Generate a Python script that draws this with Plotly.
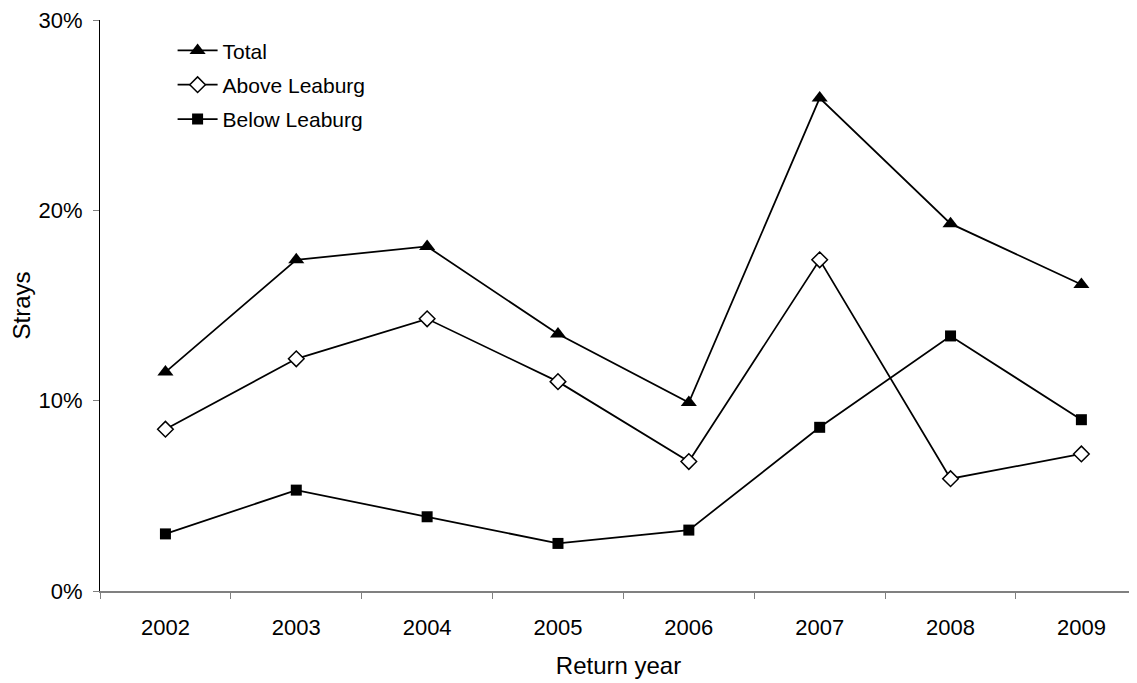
import plotly.graph_objects as go

years = ["2002", "2003", "2004", "2005", "2006", "2007", "2008", "2009"]
total = [11.5, 17.4, 18.1, 13.5, 9.9, 25.9, 19.3, 16.1]
above_leaburg = [8.5, 12.2, 14.3, 11.0, 6.8, 17.4, 5.9, 7.2]
below_leaburg = [3.0, 5.3, 3.9, 2.5, 3.2, 8.6, 13.4, 9.0]

FONT = "Liberation Sans, Arial, sans-serif"

fig = go.Figure()
fig.add_trace(go.Scatter(
    x=years, y=total, name="Total", mode="lines+markers", legendgroup="a",
    line={"color": "black", "width": 1.75},
    marker={"symbol": "triangle-up", "size": 14, "color": "black"},
))
fig.add_trace(go.Scatter(
    x=years, y=above_leaburg, name="Above Leaburg", mode="lines+markers",
    legendgroup="b",
    line={"color": "black", "width": 1.75},
    marker={"symbol": "diamond", "size": 12, "color": "white",
            "line": {"color": "black", "width": 1.5}},
))
fig.add_trace(go.Scatter(
    x=years, y=below_leaburg, name="Below Leaburg", mode="lines+markers",
    legendgroup="c",
    line={"color": "black", "width": 1.75},
    marker={"symbol": "square", "size": 11, "color": "black"},
))

# page body adds an 8px offset, so the figure is sized to end at the window edge
fig.update_layout(
    width=1129, height=675,
    paper_bgcolor="white", plot_bgcolor="white",
    margin={"l": 92, "r": 0, "t": 12, "b": 92},
    font={"family": FONT, "color": "black", "size": 22},
    legend={"x": 0.07, "y": 0.982, "xanchor": "left", "yanchor": "top",
            "font": {"size": 21}, "bgcolor": "rgba(0,0,0,0)",
            "tracegroupgap": 4, "itemwidth": 40},
    xaxis={
        "type": "category", "range": [-0.5, 7.425],
        "showline": True, "linecolor": "#808080", "linewidth": 1.5,
        "ticks": "outside", "ticklen": 6, "tickcolor": "#808080",
        "tickson": "boundaries", "showgrid": False,
        "ticklabelstandoff": 16,
        "title": {"text": "Return year", "font": {"size": 24}, "standoff": 18},
        "tickfont": {"size": 22},
    },
    yaxis={
        "range": [0, 30], "tickvals": [0, 10, 20, 30],
        "ticktext": ["0%", "10%", "20%", "30%"],
        "showline": True, "linecolor": "black", "linewidth": 1,
        "ticks": "outside", "ticklen": 6, "tickcolor": "#808080",
        "showgrid": False, "zeroline": False,
        "ticklabelstandoff": 6, "ticklabeloverflow": "allow",
        "title": {"text": "Strays", "font": {"size": 24}, "standoff": 10},
        "tickfont": {"size": 22},
    },
)

fig.write_html("out.html")
